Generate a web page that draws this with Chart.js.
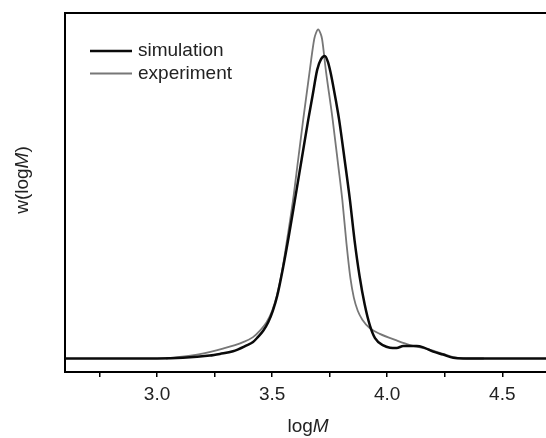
<!DOCTYPE html>
<html>
<head>
<meta charset="utf-8">
<script src="https://cdn.jsdelivr.net/npm/chart.js@4.4.0/dist/chart.umd.min.js"></script>
<style>
  body { margin: 0; background: #fff; }
</style>
</head>
<body>
<canvas id="myChart" width="546" height="438"></canvas>
<script>
// values
var simX = [2.6, 3.0, 3.112, 3.229, 3.273, 3.33, 3.389, 3.417, 3.438, 3.462, 3.483, 3.503, 3.522, 3.548, 3.572, 3.599, 3.628, 3.657, 3.676, 3.696, 3.712, 3.729, 3.742, 3.753, 3.765, 3.778, 3.791, 3.815, 3.838, 3.858, 3.88, 3.902, 3.925, 3.947, 3.983, 4.012, 4.041, 4.07, 4.099, 4.128, 4.157, 4.2, 4.243, 4.287, 4.33, 4.69];
var simY = [0, 0, 0.002, 0.009, 0.014, 0.022, 0.04, 0.05, 0.065, 0.085, 0.11, 0.145, 0.19, 0.278, 0.37, 0.482, 0.604, 0.726, 0.8, 0.878, 0.909, 0.919, 0.902, 0.872, 0.83, 0.78, 0.726, 0.604, 0.482, 0.36, 0.25, 0.165, 0.1, 0.062, 0.04, 0.033, 0.032, 0.038, 0.038, 0.038, 0.034, 0.021, 0.012, 0.002, 0, 0];

var expX = [3.04, 3.186, 3.286, 3.374, 3.417, 3.447, 3.476, 3.5, 3.52, 3.543, 3.567, 3.591, 3.613, 3.635, 3.664, 3.683, 3.691, 3.7, 3.709, 3.717, 3.733, 3.763, 3.787, 3.805, 3.823, 3.84, 3.855, 3.872, 3.892, 3.925, 3.968, 4.041, 4.099, 4.171, 4.243, 4.287, 4.345, 4.42];
var expY = [0, 0.013, 0.03, 0.05, 0.065, 0.085, 0.11, 0.145, 0.19, 0.265, 0.37, 0.482, 0.604, 0.726, 0.878, 0.971, 0.99, 1.0, 0.99, 0.971, 0.878, 0.726, 0.588, 0.482, 0.35, 0.245, 0.185, 0.145, 0.118, 0.092, 0.075, 0.055, 0.041, 0.029, 0.014, 0.004, 0, 0];

var xTicks = [2.75, 3.0, 3.25, 3.5, 3.75, 4.0, 4.25, 4.5];
var seriesNames = ['simulation', 'experiment'];

var FONT = '"Liberation Sans", Arial, sans-serif';

function pts(xs, ys) {
  return xs.map(function (x, i) { return {x: x, y: ys[i]}; });
}

// legend and axis titles drawn like the figure (inside the frame, italic M)
var figureText = {
  id: 'figureText',
  afterDraw: function (chart) {
    var ctx = chart.ctx;
    ctx.save();
    ctx.textBaseline = 'middle';
    ctx.font = '19px ' + FONT;
    chart.data.datasets.forEach(function (ds, i) {
      var y = 51 + i * 22.5;
      ctx.strokeStyle = ds.borderColor;
      ctx.lineWidth = ds.borderWidth;
      ctx.beginPath();
      ctx.moveTo(90, y);
      ctx.lineTo(132, y);
      ctx.stroke();
      ctx.fillStyle = '#222';
      ctx.textAlign = 'left';
      ctx.fillText(ds.label, 138, y);
    });

    // x title: log + italic M
    var cx = 308, cy = 427;
    ctx.font = '19px ' + FONT;
    var w1 = ctx.measureText('log').width;
    ctx.font = 'italic 19px ' + FONT;
    var w2 = ctx.measureText('M').width;
    var sx = cx - (w1 + w2) / 2;
    ctx.font = '19px ' + FONT;
    ctx.fillText('log', sx, cy);
    ctx.font = 'italic 19px ' + FONT;
    ctx.fillText('M', sx + w1, cy);

    // y title: w(logM) rotated
    ctx.translate(23, 180);
    ctx.rotate(-Math.PI / 2);
    var parts = [['w(log', ''], ['M', 'italic '], [')', '']];
    var total = 0;
    parts.forEach(function (p) {
      ctx.font = p[1] + '19px ' + FONT;
      total += ctx.measureText(p[0]).width;
    });
    var px = -total / 2;
    parts.forEach(function (p) {
      ctx.font = p[1] + '19px ' + FONT;
      ctx.fillText(p[0], px, 0);
      px += ctx.measureText(p[0]).width;
    });
    ctx.restore();
  }
};

var ctx = document.getElementById('myChart').getContext('2d');
var myChart = new Chart(ctx, {
  type: 'line',
  data: {
    datasets: [{
      data: pts(simX, simY),
      label: seriesNames[0],
      borderColor: '#0a0a0a',
      borderWidth: 2.5,
      pointRadius: 0,
      cubicInterpolationMode: 'monotone',
      fill: false
    }, {
      data: pts(expX, expY),
      label: seriesNames[1],
      borderColor: '#777777',
      borderWidth: 1.8,
      pointRadius: 0,
      cubicInterpolationMode: 'monotone',
      fill: false
    }]
  },
  options: {
    responsive: false,
    animation: false,
    layout: { padding: 0 },
    plugins: {
      legend: { display: false },
      tooltip: { enabled: false }
    },
    scales: {
      x: {
        type: 'linear',
        position: 'bottom',
        min: 2.6,
        max: 4.69,
        afterBuildTicks: function (axis) {
          axis.ticks = xTicks.map(function (v) { return {value: v}; });
        },
        afterFit: function (axis) { axis.height = 66; },
        ticks: {
          autoSkip: false,
          maxRotation: 0,
          padding: 6,
          color: '#222',
          font: { family: FONT, size: 19 },
          callback: function (v) {
            return Math.abs(v * 2 - Math.round(v * 2)) < 1e-6 ? v.toFixed(1) : '';
          }
        },
        grid: {
          drawOnChartArea: false,
          drawTicks: true,
          tickLength: 5,
          color: '#000',
          lineWidth: 1.5
        },
        border: { display: true, color: '#000', width: 2 }
      },
      x2: {
        type: 'linear',
        position: 'top',
        min: 2.6,
        max: 4.69,
        afterFit: function (axis) { axis.height = 13; },
        ticks: { display: false },
        grid: { display: false },
        border: { display: true, color: '#000', width: 2 }
      },
      y: {
        min: -0.041,
        max: 1.05,
        afterFit: function (axis) { axis.width = 65; },
        ticks: { display: false },
        grid: { drawOnChartArea: false, drawTicks: false },
        border: { display: true, color: '#000', width: 2 }
      }
    }
  },
  plugins: [figureText]
});
</script>
</body>
</html>
